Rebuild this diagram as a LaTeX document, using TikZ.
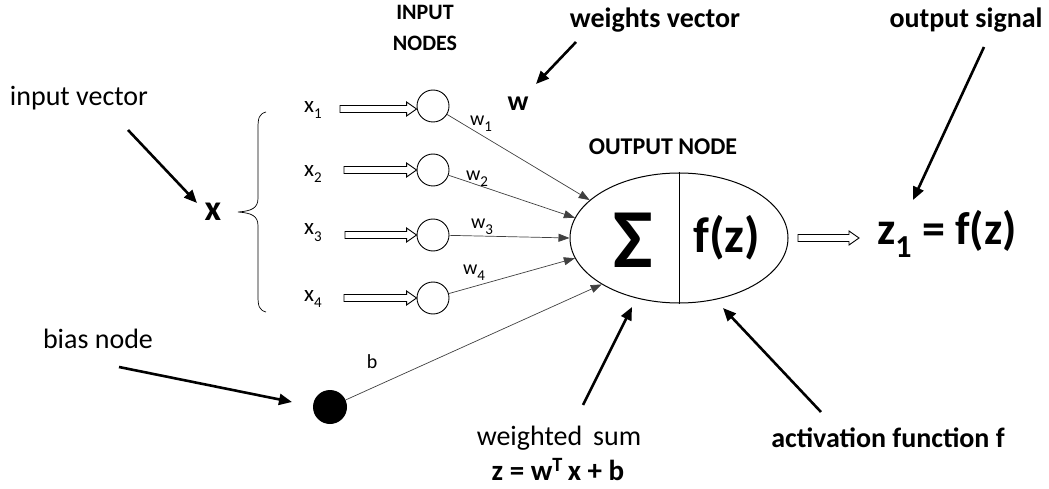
\documentclass[tikz,border=0pt]{standalone}
\usepackage{fontspec}
\setmainfont{Carlito}
\usetikzlibrary{arrows.meta,calc,shapes.geometric}
\newcommand\fs[1]{\fontsize{#1}{#1}\selectfont}
\newcommand\sub[1]{\raisebox{-0.3em}{\fs{15}#1}}
\newcommand\hollowarr[4]{% from, to, shaft half, head half
  \draw[line width=0.9pt,line join=miter] ($(#1)+(0,#3)$) -- ($(#2)+(-10,#3)$) -- ($(#2)+(-10,#4)$) -- (#2)
   -- ($(#2)+(-10,-#4)$) -- ($(#2)+(-10,-#3)$) -- ($(#1)+(0,-#3)$) -- cycle;}
\begin{document}
\begin{tikzpicture}[x=1pt,y=-1pt,
  txt/.style={inner sep=0, font=\fs{28}},
  btxt/.style={inner sep=0, font=\fs{28}\bfseries},
  inp/.style={circle, draw, line width=0.9pt, minimum size=32pt, inner sep=0},
  wline/.style={draw=black!75, line width=0.7pt, -{Triangle[length=11pt,width=8pt]}},
  annot/.style={line width=2.6pt, -{Triangle[length=13pt,width=11pt]}},
  wlab/.style={inner sep=0, font=\fs{20}}]
\useasboundingbox (0,0) rectangle (1049,489);

% left labels
\node[txt] (iv) at (79,98) {input vector};
\node[inner sep=0, font=\fs{36}\bfseries] (xv) at (213,212) {x};
\coordinate (ivs) at (128,130);
\coordinate (ive) at (197,203);
\draw[annot] (ivs) -- (ive);

% brace
\draw[line width=0.7pt] (266,112) .. controls (259,114) and (258,118) .. (258,128)
  -- (258,198) .. controls (258,208) and (252,211) .. (238,212)
  .. controls (252,213) and (258,216) .. (258,226)
  -- (258,296) .. controls (258,306) and (259,310) .. (266,312);

% inputs
\node[inner sep=0, font=\fs{23}] (x1) at (313,110) {x\sub{1}};
\node[inner sep=0, font=\fs{23}] (x2) at (313,174) {x\sub{2}};
\node[inner sep=0, font=\fs{23}] (x3) at (313,233) {x\sub{3}};
\node[inner sep=0, font=\fs{23}] (x4) at (313,299) {x\sub{4}};

\node[inp] (c1) at (433,106) {};
\node[inp] (c2) at (433,170) {};
\node[inp] (c3) at (433,235) {};
\node[inp] (c4) at (433,298) {};

\coordinate (a1s) at (340,109); \coordinate (a1e) at (c1.west|-a1s);
\coordinate (a2s) at (344,170); \coordinate (a2e) at (c2.west|-a2s);
\coordinate (a3s) at (345,235); \coordinate (a3e) at (c3.west|-a3s);
\coordinate (a4s) at (344,298); \coordinate (a4e) at (c4.west|-a4s);
\hollowarr{a1s}{a1e}{3.5}{7}
\hollowarr{a2s}{a2e}{3.5}{7}
\hollowarr{a3s}{a3e}{3.5}{7}
\hollowarr{a4s}{a4e}{3.5}{7}

\node[inner sep=0, font=\fs{22}\bfseries, align=center] (inl) at (425,28) {INPUT\\[9pt]NODES};

% weights label
\node[btxt] (wv) at (655,20) {weights vector};
\node[inner sep=0, font=\fs{28}\bfseries] (w) at (518,104) {w};
\coordinate (wvs) at (576,42);
\coordinate (wve) at (536,84);
\draw[annot] (wvs) -- (wve);

% output node
\node[ellipse, draw, line width=1pt, minimum width=218pt, minimum height=130pt, inner sep=0] (out) at (679,238) {};
\draw[line width=0.7pt] (out.north) -- (out.south);
\node[inner sep=0, font=\fs{84}\bfseries] (sig) at (633,240) {Σ};
\node[inner sep=0, font=\fs{50}\bfseries] (fz) at (727,238) {f(z)};
\node[inner sep=0, font=\fs{24}\bfseries] (onl) at (663,147) {OUTPUT NODE};

% bias
\node[txt] (bn) at (98,339) {bias node};
\node[circle, fill, minimum size=34pt, inner sep=0] (bias) at (330,407) {};
\coordinate (bns) at (119,367);
\coordinate (bne) at (292,402);
\draw[annot] (bns) -- (bne);

% weighted connectors
\draw[wline] (c1) -- (out.157);
\draw[wline] (c2) -- (out.169);
\draw[wline] (c3) -- (out.180);
\draw[wline] (c4) -- (out.191);
\draw[wline] (bias) -- (out.211);

\node[wlab] (w1) at (481,124) {w\sub{1}};
\node[wlab] (w2) at (477,179) {w\sub{2}};
\node[wlab] (w3) at (482,227) {w\sub{3}};
\node[wlab] (w4) at (474,273) {w\sub{4}};
\node[wlab] (bl) at (372,362) {b};

% output signal
\coordinate (os1) at (798,238);
\coordinate (os2) at (859,238);
\hollowarr{os1}{os2}{3.5}{7}
\node[inner sep=0, font=\fs{46}\bfseries] (z1) at (947,234) {z\raisebox{-0.3em}{\fs{32}1} = f(z)};
\node[btxt] (osl) at (966,20) {output signal};
\coordinate (oss) at (984,47);
\coordinate (ose) at (913,200);
\draw[annot] (oss) -- (ose);

% weighted sum
\node[txt] (wsum) at (559,438) {weighted\, sum};
\node[inner sep=0, font=\fs{29}\bfseries] (zeq) at (558,470) {z = w\textsuperscript{T}\,x + b};
\coordinate (wss) at (583,405);
\coordinate (wse) at (632,307);
\draw[annot] (wss) -- (wse);

% activation
\node[btxt] (act) at (888,438) {activation function f};
\coordinate (acs) at (821,412);
\coordinate (ace) at (723,308);
\draw[annot] (acs) -- (ace);
\end{tikzpicture}
\end{document}
